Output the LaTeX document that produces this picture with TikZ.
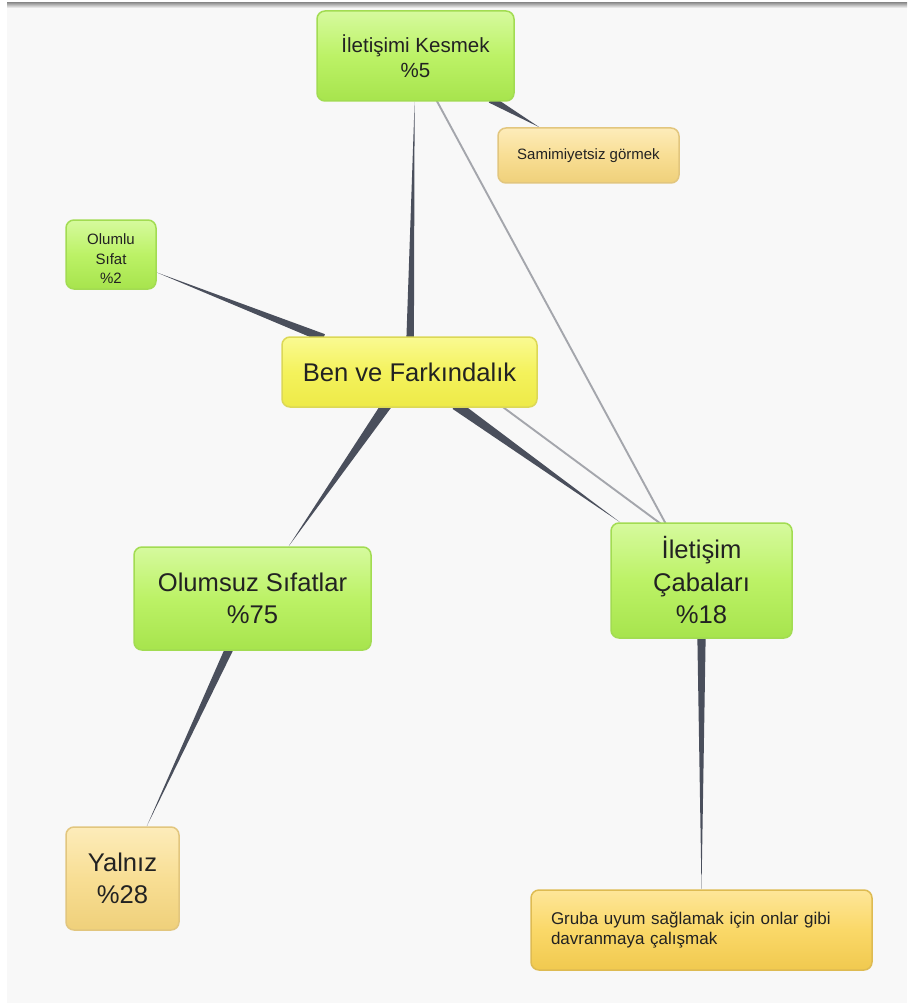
\documentclass[tikz,border=0pt]{standalone}
\usepackage{fontspec}
\setmainfont{Liberation Sans}
\usetikzlibrary{calc}

\pgfdeclarelayer{panel}
\pgfdeclarelayer{links}
\pgfsetlayers{panel,links,main}

\definecolor{paper}{HTML}{F8F8F8}
\definecolor{txt}{HTML}{222222}
\definecolor{wedgec}{HTML}{4A4F5C}
\definecolor{thinc}{HTML}{A4A6AC}
\definecolor{greentop}{HTML}{D6FA9E}
\definecolor{greenmid}{HTML}{BCF266}
\definecolor{greenbot}{HTML}{A7E44D}
\definecolor{greenline}{HTML}{A2DC52}
\definecolor{yeltop}{HTML}{FAFA92}
\definecolor{yelmid}{HTML}{F4F25C}
\definecolor{yelbot}{HTML}{EDEA48}
\definecolor{yelline}{HTML}{DCD856}
\definecolor{ortop}{HTML}{FDECBA}
\definecolor{ormid}{HTML}{F8DE94}
\definecolor{orbot}{HTML}{EFD07A}
\definecolor{orline}{HTML}{E2C67E}
\definecolor{goldtop}{HTML}{FEE699}
\definecolor{goldmid}{HTML}{FAD868}
\definecolor{goldbot}{HTML}{F0C94F}
\definecolor{goldline}{HTML}{DEBB52}

% tapered link: wide at the first node, narrowing to a point at the second
\newcommand\taperlink[3]{%
  \path (#1) -- node[coordinate,pos=0] (tA) {} node[coordinate,pos=1] (tB) {} (#2);
  \coordinate (tC) at ($(tA)!-5pt!(tB)$);
  \fill[wedgec] ($(tC)!#3!90:(tB)$) -- ($(tC)!#3!-90:(tB)$) -- (tB) -- cycle;}

\tikzset{
  box/.style={rectangle, rounded corners=8pt, line width=1.5pt, inner sep=0pt,
    align=center, text=txt},
  greenbox/.style={box, draw=greenline, top color=greentop, bottom color=greenbot, middle color=greenmid},
  yellowbox/.style={box, draw=yelline, top color=yeltop, bottom color=yelbot, middle color=yelmid},
  orangebox/.style={box, draw=orline, top color=ortop, bottom color=orbot, middle color=ormid},
  goldbox/.style={box, draw=goldline, top color=goldtop, bottom color=goldbot, middle color=goldmid},
  bigtext/.style={font=\fontsize{25.6}{32.5}\selectfont},
  midtext/.style={font=\fontsize{20.5}{25}\selectfont},
  smalltext/.style={font=\fontsize{15}{19.5}\selectfont},
  crosslink/.style={draw=thinc, line width=1.9pt},
}

\begin{document}
\begin{tikzpicture}[x=1pt,y=-1pt]
\useasboundingbox (0,0) rectangle (907,1003);

% canvas
\begin{pgfonlayer}{panel}
  \fill[white] (0,0) rectangle (907,1003);
  \fill[paper] (7,3) rectangle (907,1003);
  \shade[top color=black!40, bottom color=paper] (7,3) rectangle (907,8);
\end{pgfonlayer}

% topics
\node[yellowbox, bigtext, minimum width=255pt, minimum height=70pt] (ben) at (409.5,372) {Ben ve Farkındalık};
\node[greenbox, midtext, minimum width=197pt, minimum height=90pt] (kes) at (415.5,56) {İletişimi Kesmek\\\%5};
\node[orangebox, smalltext, minimum width=181pt, minimum height=55pt] (sam) at (588.5,155.5) {Samimiyetsiz görmek};
\node[greenbox, smalltext, minimum width=90pt, minimum height=69pt] (olu) at (111,254.5)
      {\raisebox{-6pt}[\height][\depth]{\begin{tabular}{@{}c@{}}Olumlu\\Sıfat\\\%2\end{tabular}}};
\node[greenbox, bigtext, minimum width=237pt, minimum height=103pt] (ols) at (252.5,598.5) {Olumsuz Sıfatlar\\\%75};
\node[greenbox, bigtext, minimum width=181pt, minimum height=115pt] (cab) at (701.5,580.5) {İletişim\\Çabaları\\\%18};
\node[orangebox, bigtext, minimum width=113pt, minimum height=103pt] (yal) at (122.5,878.5) {Yalnız\\\%28};
\node[goldbox, font=\fontsize{17}{20.5}\selectfont, align=left, text width=301pt, inner xsep=20pt,
      minimum width=341pt, minimum height=80pt] (gru) at (701.5,930)
      {Gruba uyum sağlamak için onlar gibi\\davranmaya çalışmak};

% anchor points of the cross links
\coordinate (kesX) at ([xshift=-3pt]kes.center);
\coordinate (cabX) at ([xshift=-5pt]cab.center);
\coordinate (benY) at ([xshift=46pt]ben.center);
\coordinate (cabY) at ([xshift=36pt]cab.center);

\begin{pgfonlayer}{links}
  \draw[crosslink] (kesX) -- (cabX);
  \draw[crosslink] (benY) -- (cabY);
  \taperlink{ben}{kes}{3.8pt}
  \taperlink{ben}{olu}{4.2pt}
  \taperlink{ben}{ols}{5.2pt}
  \taperlink{ben}{cab}{5pt}
  \taperlink{ols}{yal}{4.2pt}
  \taperlink{cab}{gru}{4.2pt}
  \taperlink{kes}{sam}{3.8pt}
\end{pgfonlayer}
\end{tikzpicture}
\end{document}
